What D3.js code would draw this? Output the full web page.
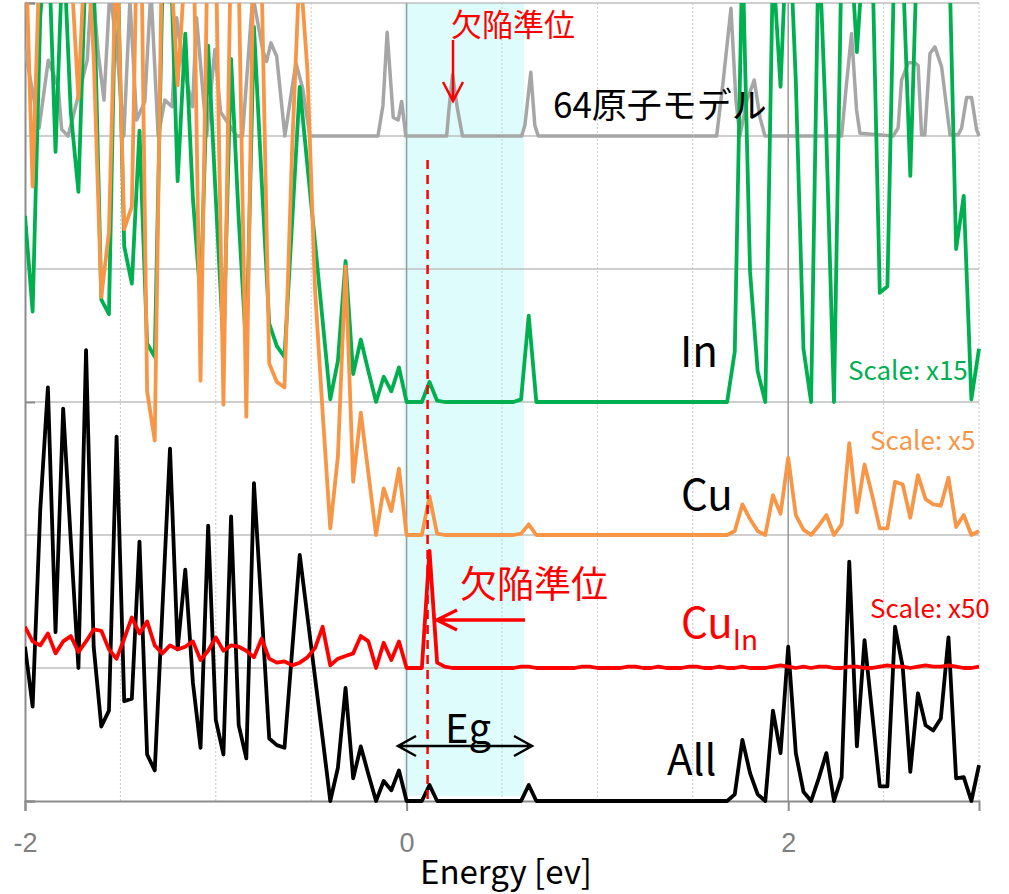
<!DOCTYPE html>
<html lang="ja">
<head>
<meta charset="utf-8">
<script src="https://cdn.jsdelivr.net/npm/d3@7/dist/d3.min.js"></script>
<style>
  body { margin: 0; background: #fff; }
  svg { display: block; font-family: "Noto Sans CJK JP", "Noto Sans", sans-serif; }
</style>
</head>
<body>
<script>
// energy grid (eV), one point every 0.04 eV from -2 to 3
const energy = d3.range(126).map(i => +(-2 + 0.04 * i).toFixed(2));

// total DOS ("All"), panel units
const allDos = [
  1.16, 0.71, 2.19, 3.11, 1.27, 2.95, 1.96, 1.00, 3.39, 1.16,
  0.56, 0.68, 2.74, 0.75, 0.77, 1.95, 0.35, 0.23, 1.44, 2.65,
  1.14, 1.74, 0.89, 0.40, 2.07, 0.61, 0.35, 2.14, 0.57, 0.32,
  2.39, 1.44, 0.47, 0.42, 0.40, 1.13, 1.85, 1.39, 0.93, 0.47,
  0.00, 0.25, 0.85, 0.17, 0.41, 0.20, 0.00, 0.15, 0.08, 0.23,
  0, 0, 0, 0.12, 0, 0, 0, 0, 0, 0,
  0, 0, 0, 0, 0, 0, 0.12, 0, 0, 0,
  0, 0, 0, 0, 0, 0, 0, 0, 0, 0,
  0, 0, 0, 0, 0, 0, 0, 0, 0, 0,
  0, 0, 0, 0.05, 0.46, 0.21, 0.05, 0, 0.68, 0.36,
  1.16, 0.36, 0.07, 0, 0.17, 0.36, 0, 0.18, 1.80, 0.41,
  1.21, 0.66, 0.11, 0.11, 1.31, 1.01, 0.22, 0.81, 0.57, 0.53,
  0.62, 1.23, 0.17, 0.18, 0, 0.27
];

// Cu on In site, x50
const cuInDos = [
  0.31, 0.20, 0.17, 0.26, 0.11, 0.20, 0.24, 0.12, 0.20, 0.29,
  0.28, 0.14, 0.07, 0.22, 0.38, 0.26, 0.35, 0.17, 0.11, 0.17,
  0.14, 0.16, 0.20, 0.06, 0.13, 0.23, 0.13, 0.17, 0.16, 0.13,
  0.08, 0.22, 0.07, 0.04, 0.05, 0.02, 0.04, 0.08, 0.15, 0.31,
  0.02, 0.07, 0.09, 0.11, 0.24, 0.20, 0.00, 0.19, 0.06, 0.20,
  0, 0, 0, 0.88, 0.04, 0.01, 0, 0, 0, 0,
  0, 0, 0, 0, 0, 0.01, 0.01, 0, 0, 0,
  0, 0, 0, 0.01, 0.01, 0, 0, 0, 0, 0.01,
  0.01, 0, 0, 0.01, 0, 0, 0, 0.01, 0.01, 0,
  0, 0.01, 0, 0, 0.01, 0, 0, 0, 0.01, 0.02,
  0.01, 0, 0.01, 0, 0.01, 0.01, 0, 0, 0.01, 0.01,
  0, 0, 0.01, 0.02, 0.01, 0.01, 0, 0.01, 0.02, 0.01,
  0.01, 0.02, 0.01, 0, 0, 0.01
];

// Cu, x5
const cuDos = [
  4.6, 2.62, 4.5, 5.0, 4.4, 4.8, 4.3, 3.28, 4.6, 3.6,
  1.79, 2.28, 4.5, 2.30, 2.47, 5.5, 1.08, 0.71, 4.6, 4.4,
  3.38, 4.3, 4.8, 1.16, 4.7, 4.4, 0.98, 4.5, 4.2, 0.89,
  4.6, 4.2, 1.29, 1.15, 1.11, 2.90, 4.3, 3.50, 1.85, 0.92,
  0.05, 0.59, 2.02, 0.40, 0.92, 0.46, 0.00, 0.35, 0.18, 0.50,
  0, 0, 0, 0.29, 0.01, 0, 0, 0, 0, 0,
  0, 0, 0, 0, 0, 0.01, 0.08, 0, 0, 0,
  0, 0, 0, 0, 0, 0, 0, 0, 0, 0,
  0, 0, 0, 0, 0, 0, 0, 0, 0, 0,
  0, 0, 0, 0.03, 0.23, 0.12, 0.03, 0, 0.30, 0.16,
  0.58, 0.15, 0.04, 0, 0.07, 0.15, 0, 0.08, 0.69, 0.17,
  0.53, 0.30, 0.05, 0.05, 0.40, 0.38, 0.13, 0.45, 0.27, 0.23,
  0.22, 0.43, 0.06, 0.15, 0, 0.03
];

// In, x15
const inDos = [
  1.40, 0.68, 2.9, 3.6, 1.88, 3.5, 2.18, 1.58, 3.4, 3.2,
  0.77, 0.66, 3.6, 1.17, 0.89, 2.04, 0.44, 0.34, 3.1, 3.5,
  1.66, 2.77, 1.53, 0.77, 2.68, 1.53, 0.42, 2.58, 1.38, 0.38,
  2.82, 1.68, 0.59, 0.42, 0.34, 1.35, 2.37, 1.78, 1.20, 0.61,
  0.02, 0.31, 1.06, 0.21, 0.47, 0.23, 0.00, 0.19, 0.08, 0.26,
  0, 0, 0, 0.15, 0.01, 0, 0, 0, 0, 0,
  0, 0, 0, 0, 0, 0.02, 0.65, 0, 0, 0,
  0, 0, 0, 0, 0, 0, 0, 0, 0, 0,
  0, 0, 0, 0, 0, 0, 0, 0, 0, 0,
  0, 0, 0, 0.38, 3.4, 0.98, 0.23, 0, 3.3, 2.37,
  3.8, 2.41, 0.40, 0, 3.5, 2.0, 0, 3.4, 3.6, 2.63,
  3.5, 3.4, 0.82, 0.87, 3.6, 3.3, 1.70, 3.6, 3.8, 3.7,
  3.5, 3.6, 1.15, 1.55, 0.02, 0.40
];

// 64-atom model, vertices
const m64Energy = [
  -2.0, -1.926, -1.878, -1.826, -1.808, -1.774, -1.712, -1.674, -1.649, -1.616,
  -1.586, -1.555, -1.518, -1.482, -1.45, -1.415, -1.372, -1.34, -1.302, -1.267,
  -1.229, -1.205, -1.167, -1.122, -1.101, -1.048, -1.005, -0.975, -0.891, -0.86,
  -0.806, -0.755, -0.734, -0.711, -0.681, -0.638, -0.58, -0.545, -0.507, -0.15,
  -0.124, -0.102, -0.07, -0.044, -0.026, -0.004, 0.21, 0.222, 0.241, 0.267,
  0.293, 0.603, 0.62, 0.651, 0.672, 0.69, 1.625, 1.659, 1.70, 1.726,
  1.747, 1.784, 1.822, 1.852, 1.878, 2.28, 2.306, 2.332, 2.358, 2.376,
  2.55, 2.576, 2.594, 2.629, 2.664, 2.681, 2.699, 2.716, 2.743, 2.769,
  2.804, 2.848, 2.891, 2.909, 2.935, 2.961, 2.987, 3.0
];
const m64Dos = [
  0.65, 0.06, 0.57, 0.37, 0.05, 0, 0.35, 0.57, 1.17, 0.62,
  0.27, 1.10, 0.65, 0, 1.02, 0.12, 0.26, 1.10, 0, 0.27,
  0.22, 0.89, 0.50, 0.22, 0.89, 0, 0.65, 0.18, 0, 0,
  1.06, 0.65, 0.56, 0.70, 0.60, 0, 0.55, 0.36, 0, 0,
  0.23, 0.78, 0.14, 0.12, 0.26, 0, 0, 0.20, 0.46, 0.20,
  0, 0, 0.08, 0.48, 0.08, 0, 0, 0.41, 0.96, 0.27,
  0, 0.27, 0.42, 0.14, 0, 0, 0.40, 0.77, 0.20, 0.02,
  0, 0.06, 0.42, 0.55, 0.55, 0.53, 0.01, 0.01, 0.62, 0.67,
  0.52, 0.01, 0.01, 0.06, 0.29, 0.29, 0.05, 0
];

const xTicks = [-2, 0, 2];
const gapRange = [-0.015, 0.615];
const defectLevel = 0.11;

const W = 1009, H = 894;
const svg = d3.select("body").append("svg").attr("width", W).attr("height", H);

const x = d3.scaleLinear().domain([-2, 3]).range([25, 979]);
const y = d3.scaleLinear().domain([0, 6]).range([801, 3]);

svg.append("defs").append("clipPath").attr("id", "plotClip")
  .append("rect").attr("x", x(-2)).attr("y", y(6)).attr("width", x(3) - x(-2) + 2).attr("height", y(0) - y(6) + 2);

// band gap shading
svg.append("rect")
  .attr("x", x(gapRange[0])).attr("y", y(6))
  .attr("width", x(gapRange[1]) - x(gapRange[0]))
  .attr("height", 796 - y(6))
  .attr("fill", "#dffcfc");

// minor vertical grid (dotted)
svg.append("g").selectAll("line")
  .data(d3.range(-1.5, 3.01, 0.5).filter(v => Math.abs(v % 2) > 1e-6))
  .join("line")
  .attr("x1", d => x(d)).attr("x2", d => x(d))
  .attr("y1", y(6)).attr("y2", y(0))
  .attr("stroke", "#c8c8c8").attr("stroke-width", 1).attr("stroke-dasharray", "2,2");

// horizontal grid
svg.append("g").selectAll("line")
  .data(d3.range(1, 7))
  .join("line")
  .attr("x1", x(-2)).attr("x2", x(3))
  .attr("y1", d => y(d)).attr("y2", d => y(d))
  .attr("stroke", "#bfbfbf").attr("stroke-width", 1.5);

// major vertical grid
svg.append("g").selectAll("line")
  .data([0, 2])
  .join("line")
  .attr("x1", d => x(d)).attr("x2", d => x(d))
  .attr("y1", y(6)).attr("y2", y(0))
  .attr("stroke", "#9a9a9a").attr("stroke-width", 1.5);

// axes
const xAxis = svg.append("g")
  .attr("transform", `translate(0,${y(0)})`)
  .call(d3.axisBottom(x).tickValues(xTicks).tickSize(10).tickPadding(22).tickFormat(d3.format("d")));
xAxis.select(".domain").attr("stroke", "#8c8c8c").attr("stroke-width", 2);
xAxis.selectAll(".tick line").attr("stroke", "#8c8c8c").attr("stroke-width", 2);
xAxis.selectAll(".tick text")
  .attr("fill", "#7f7f7f").attr("font-size", 27)
  .attr("font-family", "'Liberation Sans', Arial, sans-serif")
  .text(d => d < 0 ? "-" + Math.abs(d) : d);

const yAxis = svg.append("g")
  .attr("transform", `translate(${x(-2)},0)`)
  .call(d3.axisRight(y).tickValues([0, 3, 6]).tickSize(10).tickFormat(""));
yAxis.select(".domain").attr("stroke", "#8c8c8c").attr("stroke-width", 2);
yAxis.selectAll(".tick line").attr("stroke", "#8c8c8c").attr("stroke-width", 2);

svg.append("text")
  .attr("x", 506).attr("y", 884)
  .attr("text-anchor", "middle").attr("font-size", 33).attr("fill", "#000")
  .text("Energy [ev]");

// curves
const plot = svg.append("g").attr("clip-path", "url(#plotClip)");

function gridLine(offset) {
  return d3.line().x((d, i) => x(energy[i])).y(d => y(d + offset));
}

plot.append("path")
  .datum(m64Dos)
  .attr("fill", "none").attr("stroke", "#a6a6a6").attr("stroke-width", 3.5).attr("stroke-linejoin", "round")
  .attr("d", d3.line().x((d, i) => x(m64Energy[i])).y(d => y(d + 5)));

const series = [
  { data: allDos, offset: 0, color: "#000000" },
  { data: cuInDos, offset: 1, color: "#ff0000" },
  { data: inDos, offset: 3, color: "#00b050" },
  { data: cuDos, offset: 2, color: "#f79646" }
];
series.forEach(s => {
  plot.append("path")
    .datum(s.data)
    .attr("fill", "none").attr("stroke", s.color).attr("stroke-width", 3.8).attr("stroke-linejoin", "round")
    .attr("d", gridLine(s.offset));
});

// defect level dashed line
svg.append("line")
  .attr("x1", x(defectLevel)).attr("x2", x(defectLevel))
  .attr("y1", 160).attr("y2", y(0))
  .attr("stroke", "#ff0000").attr("stroke-width", 2.5).attr("stroke-dasharray", "9,6");

// arrows
function chevron(tx, ty, dx, dy, len, half) {
  // open arrowhead at (tx,ty), pointing in direction (dx,dy)
  const px = -dy, py = dx;
  return `M${tx - dx * len + px * half},${ty - dy * len + py * half}L${tx},${ty}L${tx - dx * len - px * half},${ty - dy * len - py * half}`;
}

// top red arrow to 64-atom peak
svg.append("path")
  .attr("d", `M453,40L453,101` + chevron(453, 101, 0, 1, 19, 10))
  .attr("fill", "none").attr("stroke", "#ff0000").attr("stroke-width", 2.5);

// red arrow to CuIn peak
svg.append("path")
  .attr("d", `M525,620L437,620` + chevron(437, 620, -1, 0, 20, 10))
  .attr("fill", "none").attr("stroke", "#ff0000").attr("stroke-width", 3.5);

// Eg double arrow
svg.append("path")
  .attr("d", `M398,746L532,746` + chevron(398, 746, -1, 0, 18, 10) + chevron(532, 746, 1, 0, 18, 10))
  .attr("fill", "none").attr("stroke", "#000").attr("stroke-width", 2.5);

// labels
const labels = [
  { t: "欠陥準位", x: 451, y: 36, s: 31, c: "#ff0000" },
  { t: "64原子モデル", x: 553, y: 118, s: 35, c: "#000" },
  { t: "In", x: 680, y: 367, s: 42, c: "#000" },
  { t: "Scale: x15", x: 848, y: 380, s: 26, c: "#00b050" },
  { t: "Scale: x5", x: 870, y: 450, s: 26, c: "#f79646" },
  { t: "Cu", x: 681, y: 510, s: 42, c: "#000" },
  { t: "欠陥準位", x: 460, y: 598, s: 37, c: "#ff0000" },
  { t: "Scale: x50", x: 870, y: 618, s: 26, c: "#ff0000" },
  { t: "Eg", x: 445, y: 743, s: 40, c: "#000" },
  { t: "All", x: 667, y: 775, s: 42, c: "#000" }
];
svg.append("g").selectAll("text")
  .data(labels)
  .join("text")
  .attr("x", d => d.x).attr("y", d => d.y)
  .attr("font-size", d => d.s).attr("fill", d => d.c)
  .text(d => d.t);

const cuIn = svg.append("text").attr("x", 681).attr("y", 638).attr("fill", "#ff0000");
cuIn.append("tspan").attr("font-size", 42).text("Cu");
cuIn.append("tspan").attr("font-size", 28).attr("dy", 12).text("In");
</script>
</body>
</html>
